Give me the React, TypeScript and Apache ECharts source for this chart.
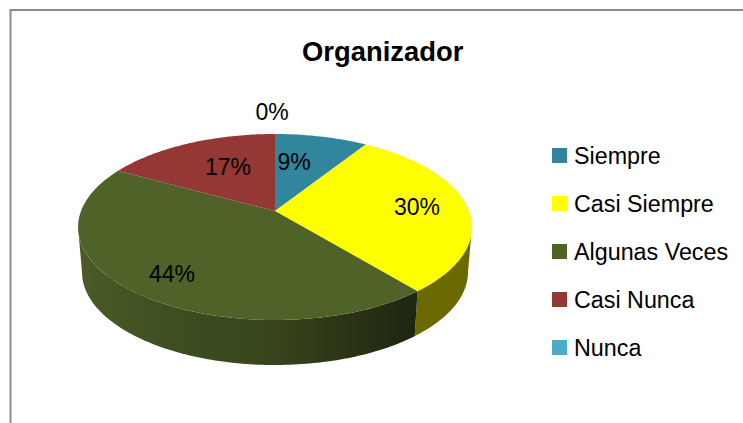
import React, { useEffect, useRef } from "react";
import * as echarts from "echarts";

const categories = ["Siempre", "Casi Siempre", "Algunas Veces", "Casi Nunca", "Nunca"];
const percentValues = [9, 30, 44, 17, 0];

const faceColors = ["#31859c", "#ffff00", "#4f6228", "#953735", "#4bacc6"];
const wallFills: any[] = [
  "#1f5563",
  "#6a6a00",
  new echarts.graphic.LinearGradient(0, 0, 1, 0, [
    { offset: 0, color: "#4a5b26" },
    { offset: 0.25, color: "#3f4f21" },
    { offset: 0.55, color: "#38461c" },
    { offset: 0.8, color: "#2a3415" },
    { offset: 1, color: "#1d250f" },
  ]),
  "#5a2120",
  "#2d6777",
];
const labelCenters = [
  [294, 162],
  [417, 207],
  [172, 274],
  [228, 167],
  [272, 112],
];

// projective view of the pie disc
const VERTEX_X = 275;
const VERTEX_Y = 211;
const SCALE_X = 194;
const SCALE_Y = 90.25;
const PERSPECTIVE = 0.172;
const DEPTH = 45;
const BOTTOM_SHRINK = 0.98;
const WALL_FROM = 100;
const WALL_TO = 260;

const project = (deg: number): [number, number] => {
  const t = (deg * Math.PI) / 180;
  const d = 1 + PERSPECTIVE * Math.cos(t);
  return [VERTEX_X + (SCALE_X * Math.sin(t)) / d, VERTEX_Y - (SCALE_Y * Math.cos(t)) / d];
};
const projectBottom = (deg: number): [number, number] => {
  const [x, y] = project(deg);
  return [VERTEX_X + (x - VERTEX_X) * BOTTOM_SHRINK, y + DEPTH];
};
const arc = (a: number, b: number, fn: (d: number) => [number, number]) => {
  const pts: [number, number][] = [];
  const n = Math.max(1, Math.ceil(Math.abs(b - a)));
  for (let i = 0; i <= n; i++) pts.push(fn(a + ((b - a) * i) / n));
  return pts;
};

const total = percentValues.reduce((s, v) => s + v, 0);
const startDegrees = percentValues.map(
  (_, i) => (percentValues.slice(0, i).reduce((s, v) => s + v, 0) / total) * 360
);

export default function App() {
  const ref = useRef<HTMLDivElement>(null);
  useEffect(() => {
    const chart = echarts.init(ref.current!, null, { renderer: "svg" });
    const series = categories.map((name, idx) => ({
      type: "custom",
      name,
      coordinateSystem: "none",
      silent: true,
      itemStyle: { color: faceColors[idx] },
      data: [[percentValues[idx], startDegrees[idx]]],
      renderItem: (_p: any, api: any) => {
        const value = api.value(0);
        const start = api.value(1);
        const end = start + (value / total) * 360;
        const children: any[] = [];
        if (value > 0) {
          const wa = Math.max(start, WALL_FROM);
          const wb = Math.min(end, WALL_TO);
          if (wb > wa) {
            children.push({
              type: "polygon",
              z2: 1,
              shape: { points: [...arc(wa, wb, project), ...arc(wb, wa, projectBottom)] },
              style: { fill: wallFills[idx] },
            });
          }
          children.push({
            type: "polygon",
            z2: 2,
            shape: { points: [[VERTEX_X, VERTEX_Y], ...arc(start, end, project)] },
            style: { fill: faceColors[idx] },
          });
        }
        children.push({
          type: "text",
          z2: 3,
          style: {
            x: labelCenters[idx][0],
            y: labelCenters[idx][1],
            text: `${value}%`,
            fill: "#000000",
            font: '23px "Liberation Sans"',
            align: "center",
            verticalAlign: "middle",
          },
        });
        return { type: "group", children };
      },
    }));
    chart.setOption({
      animation: false,
      backgroundColor: "#ffffff",
      title: {
        text: "Organizador",
        left: 302,
        top: 38,
        padding: 0,
        textStyle: {
          fontFamily: "Liberation Sans",
          fontWeight: "bold",
          fontSize: 27.4,
          color: "#000000",
        },
      },
      legend: {
        orient: "vertical",
        left: 552,
        top: 144,
        padding: 0,
        itemGap: 25,
        itemWidth: 15,
        itemHeight: 15,
        selectedMode: false,
        icon: "rect",
        data: categories,
        textStyle: {
          fontFamily: "Liberation Sans",
          fontSize: 23.3,
          color: "#000000",
          padding: [0, 0, 0, 2],
        },
      },
      graphic: [
        {
          type: "polyline",
          silent: true,
          shape: { points: [[10.5, 423], [10.5, 10], [743, 10]] },
          style: { stroke: "#8a8a8a", lineWidth: 2, fill: "none" },
        },
      ],
      series,
    });
    return () => chart.dispose();
  }, []);
  return (
    <div
      ref={ref}
      style={{ position: "absolute", left: 0, top: 0, width: 743, height: 423 }}
    />
  );
}
